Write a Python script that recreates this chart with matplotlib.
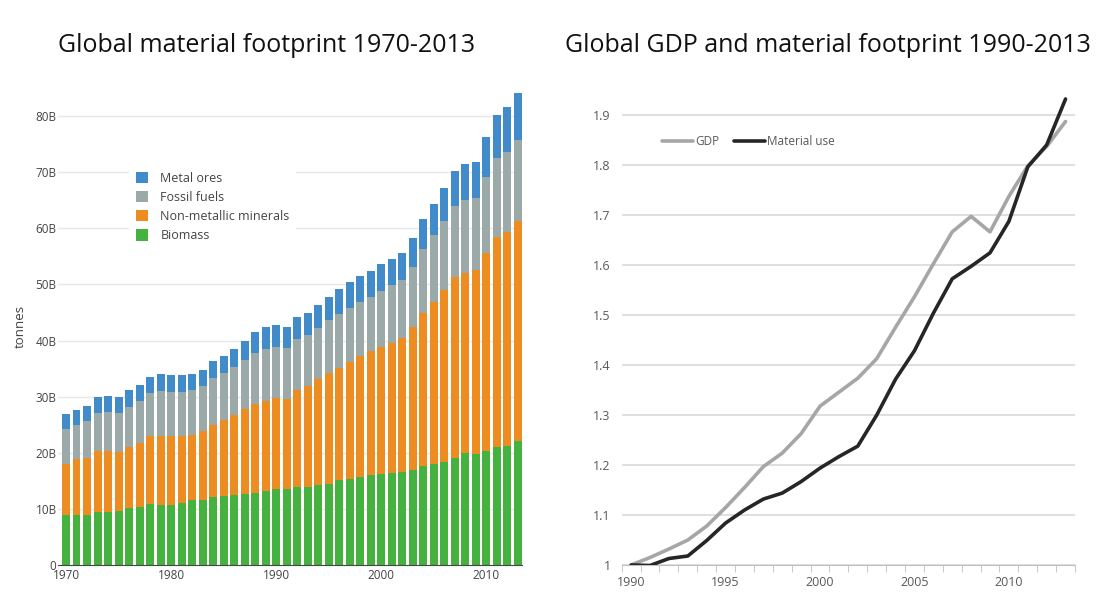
import matplotlib
matplotlib.use("Agg")
import matplotlib.pyplot as plt
import numpy as np

plt.rcParams['font.family'] = ['Open Sans', 'DejaVu Sans']

# Left chart: global material footprint, billions of tonnes
years = list(range(1970, 2014))
biomass = [8.9, 8.9, 8.9, 9.4, 9.4, 9.6, 10.2, 10.3, 10.9, 10.7,
           10.7, 11.05, 11.6, 11.6, 12.1, 12.3, 12.5, 12.7, 12.8, 13.2,
           13.5, 13.5, 13.9, 13.9, 14.3, 14.4, 15.2, 15.3, 15.7, 16.0,
           16.2, 16.4, 16.6, 16.9, 17.6, 18.0, 18.4, 19.1, 20.0, 19.8,
           20.3, 21.0, 21.2, 22.1]
non_metallic = [9.1, 9.9, 10.2, 10.9, 10.9, 10.5, 10.8, 11.4, 12.1, 12.3,
                12.3, 11.95, 11.6, 12.3, 12.9, 13.5, 14.2, 15.1, 15.9, 16.0,
                16.3, 16.1, 17.3, 18.0, 18.9, 19.8, 19.9, 20.9, 21.6, 22.1,
                22.7, 23.2, 23.9, 25.5, 27.3, 28.9, 30.6, 32.2, 32.0, 32.8,
                35.3, 37.5, 38.2, 39.2]
fossil = [6.2, 6.2, 6.6, 6.8, 7.0, 7.0, 7.2, 7.5, 7.7, 8.0,
          7.8, 7.8, 8.0, 8.0, 8.3, 8.4, 8.6, 8.7, 9.1, 9.3,
          9.1, 9.1, 9.1, 9.1, 9.0, 9.5, 9.6, 9.6, 9.6, 9.7,
          9.9, 10.3, 10.3, 10.7, 11.4, 11.9, 12.3, 12.7, 13.1, 12.8,
          13.6, 14.0, 14.2, 14.5]
metal = [2.7, 2.6, 2.6, 2.8, 2.8, 2.8, 3.0, 2.9, 2.8, 3.0,
         3.1, 3.1, 2.8, 2.9, 3.1, 3.1, 3.2, 3.4, 3.7, 3.9,
         3.9, 3.7, 3.9, 3.9, 4.1, 4.1, 4.5, 4.6, 4.6, 4.6,
         4.9, 4.6, 4.8, 5.2, 5.4, 5.5, 5.9, 6.2, 6.4, 6.4,
         7.1, 7.7, 8.0, 8.3]
left_ticks = [1970, 1980, 1990, 2000, 2010]
left_yticks = [0, 10, 20, 30, 40, 50, 60, 70, 80]
left_ylabels = ['0', '10B', '20B', '30B', '40B', '50B', '60B', '70B', '80B']

# Right chart: index 1990 = 1
line_years = list(range(1990, 2014))
gdp = [1.0, 1.015, 1.032, 1.05, 1.078, 1.115, 1.155, 1.197, 1.224, 1.263,
       1.318, 1.346, 1.374, 1.413, 1.476, 1.537, 1.603, 1.667, 1.698, 1.667,
       1.738, 1.799, 1.838, 1.888]
material = [1.0, 0.999, 1.013, 1.018, 1.049, 1.084, 1.11, 1.132, 1.144, 1.167,
            1.194, 1.217, 1.238, 1.30, 1.372, 1.429, 1.504, 1.573, 1.598, 1.625,
            1.688, 1.797, 1.841, 1.933]
right_ticks = [1990, 1995, 2000, 2005, 2010]
right_yticks = [1, 1.1, 1.2, 1.3, 1.4, 1.5, 1.6, 1.7, 1.8, 1.9]
right_ylabels = ['1', '1.1', '1.2', '1.3', '1.4', '1.5', '1.6', '1.7', '1.8', '1.9']

W, H = 1107, 612
fig = plt.figure(figsize=(W / 100, H / 100), dpi=100)


def px_axes(x0, x1, y_top, y_bot):
    return fig.add_axes([x0 / W, (H - y_bot) / H, (x1 - x0) / W, (y_bot - y_top) / H])


# ---- left: stacked bars
ax1 = px_axes(58, 522, 88, 565)
b = np.array(biomass)
n = np.array(non_metallic)
f = np.array(fossil)
m = np.array(metal)
w = 0.76
ax1.bar(years, b, w, color='#45b13f', label='Biomass', zorder=2)
ax1.bar(years, n, w, bottom=b, color='#ed8d21', label='Non-metallic minerals', zorder=2)
ax1.bar(years, f, w, bottom=b + n, color='#9ba9a8', label='Fossil fuels', zorder=2)
ax1.bar(years, m, w, bottom=b + n + f, color='#418bca', label='Metal ores', zorder=2)
ax1.set_xlim(1969.24, 2013.39)
ax1.set_ylim(0, 85)
ax1.set_xticks(left_ticks)
ax1.set_yticks(left_yticks)
ax1.set_yticklabels(left_ylabels)
ax1.tick_params(length=0, labelsize=8.5, colors='#444444', pad=1)
ax1.tick_params(axis='x', pad=3)
for s in ['top', 'right', 'left']:
    ax1.spines[s].set_visible(False)
ax1.spines['bottom'].set_color('#444444')
ax1.spines['bottom'].set_zorder(3)
ax1.yaxis.grid(True, color='#e8e8e8', linewidth=1, zorder=0)
ax1.set_axisbelow(True)
ax1.set_ylabel('tonnes', fontsize=9.5, color='#444444', labelpad=6)
h, l = ax1.get_legend_handles_labels()
leg1 = ax1.legend(h[::-1], l[::-1], loc='upper left',
                  bbox_to_anchor=(123 / W, (H - 159) / H), bbox_transform=fig.transFigure,
                  fontsize=9, frameon=True, facecolor='white', edgecolor='none', framealpha=1,
                  fancybox=False, handlelength=1.0, handleheight=1.0, handletextpad=1.0,
                  labelspacing=0.5, borderpad=0.5)
for t in leg1.get_texts():
    t.set_color('#444444')
fig.text(267 / W, (H - 45) / H, 'Global material footprint 1970-2013',
         ha='center', va='center', fontsize=18, color='#111111')

# ---- right: line chart
ax2 = px_axes(621.7, 1075, 88, 565)
ax2.plot(line_years, gdp, color='#a6a6a6', linewidth=2.6, label='GDP', zorder=3,
         solid_capstyle='round')
ax2.plot(line_years, material, color='#262626', linewidth=2.6, label='Material use', zorder=4,
         solid_capstyle='round')
ax2.set_xlim(1989.5, 2013.5)
ax2.set_ylim(1, 1.955)
ax2.set_xticks(right_ticks)
ax2.set_xticks(np.arange(1989.5, 2014, 1), minor=True)
ax2.set_yticks(right_yticks)
ax2.set_yticklabels(right_ylabels)
ax2.tick_params(axis='both', which='major', length=0, labelsize=9, colors='#595959')
ax2.tick_params(axis='x', which='minor', length=5, color='#bfbfbf', direction='out')
ax2.tick_params(axis='y', pad=8)
ax2.tick_params(axis='x', pad=8)
for s in ['top', 'right', 'left']:
    ax2.spines[s].set_visible(False)
ax2.spines['bottom'].set_color('#bfbfbf')
ax2.yaxis.grid(True, color='#d9d9d9', linewidth=1.2, zorder=0)
ax2.set_axisbelow(True)
leg2 = ax2.legend(loc='center left', bbox_to_anchor=(656 / W, (H - 142) / H),
                  bbox_transform=fig.transFigure, ncol=2, frameon=False, fontsize=8.5,
                  handlelength=2.6, handletextpad=0.2, columnspacing=1.3, borderpad=0)
for t in leg2.get_texts():
    t.set_color('#595959')
fig.text(828 / W, (H - 45) / H, 'Global GDP and material footprint 1990-2013',
         ha='center', va='center', fontsize=18, color='#111111')

fig.savefig('out.png', dpi=100)
